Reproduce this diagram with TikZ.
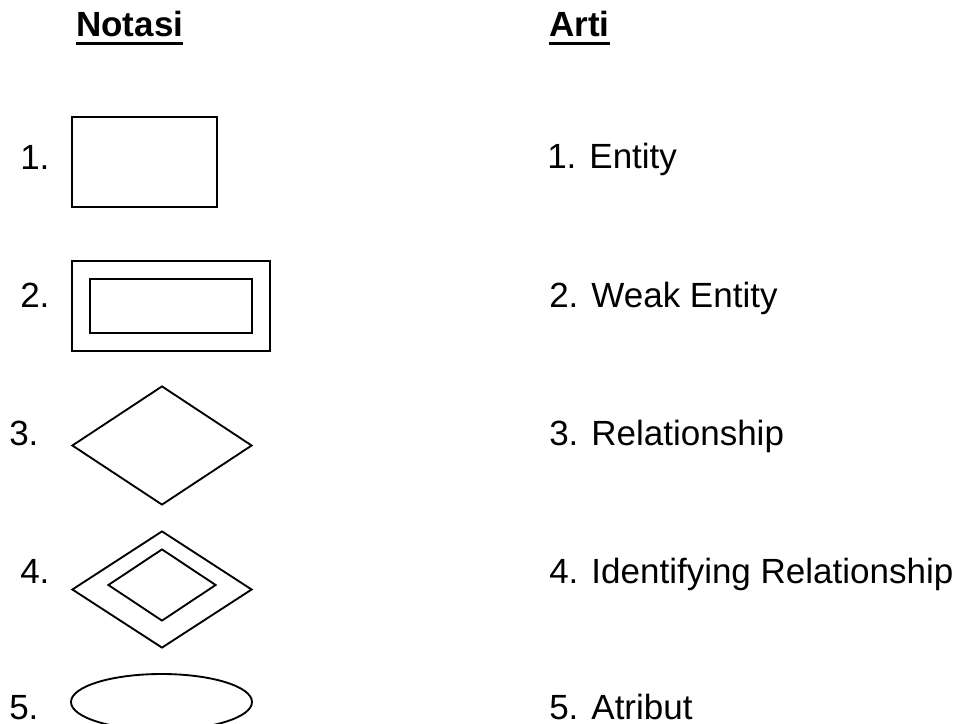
\documentclass[tikz,border=0pt]{standalone}
\usepackage{fontspec}
\setmainfont{Liberation Sans}
\usepackage{tikz}
\usetikzlibrary{shapes.geometric}
\usetikzlibrary{calc}

\newcommand{\ulhead}[1]{\setbox0\hbox{\bfseries #1}\rlap{\rule[-6pt]{\wd0}{2.25pt}}\box0}

\tikzset{
  txt/.style={font=\fontsize{26.25pt}{30pt}\selectfont, inner sep=0pt, anchor=base west},
  shp/.style={draw, line width=1.4pt, inner sep=0pt},
  ent/.style={shp, rectangle, minimum width=#1},
  rel/.style={shp, diamond, minimum width=135pt}
}

\begin{document}
\begin{tikzpicture}[x=0.75pt, y=-0.75pt]
  \useasboundingbox (0,0) rectangle (954,724);

  \node[txt] (notasi) at (76,37) {\ulhead{Notasi}};
  \node[txt] (arti) at (549,37) {\ulhead{Arti}};

  \node[txt] (n1) at (20,170) {1.};
  \node[txt] (n2) at (20,307) {2.};
  \node[txt] (n3) at (9,445) {3.};
  \node[txt] (n4) at (20,583) {4.};
  \node[txt] (n5) at (9,719) {5.};

  \node[ent=108.75pt, minimum height=67.5pt] (entity) at (144.5,162) {};
  \node[ent=148.5pt, minimum height=67.5pt] (weak) at (171,306) {};
  \node[ent=121.5pt, minimum height=40.5pt] (weakin) at (171,306) {};
  \node[rel, minimum height=89.25pt] (relasi) at (162,445.5) {};
  \node[rel, minimum height=87.75pt] (idrel) at (162,589.5) {};
  \node[shp, diamond, minimum width=81pt, minimum height=54pt] (idrelin) at (162,585) {};
  \node[shp, ellipse, minimum width=135.75pt, minimum height=42pt] (atribut) at (161.5,702) {};

  \node[txt] (a1) at (547,169) {1. Entity};
  \node[txt] (a2) at (549,307) {2. Weak Entity};
  \node[txt] (a3) at (549,445) {3. Relationship};
  \node[txt] (a4) at (549,583) {4. Identifying Relationship};
  \node[txt] (a5) at (549,719) {5. Atribut};
\end{tikzpicture}
\end{document}
